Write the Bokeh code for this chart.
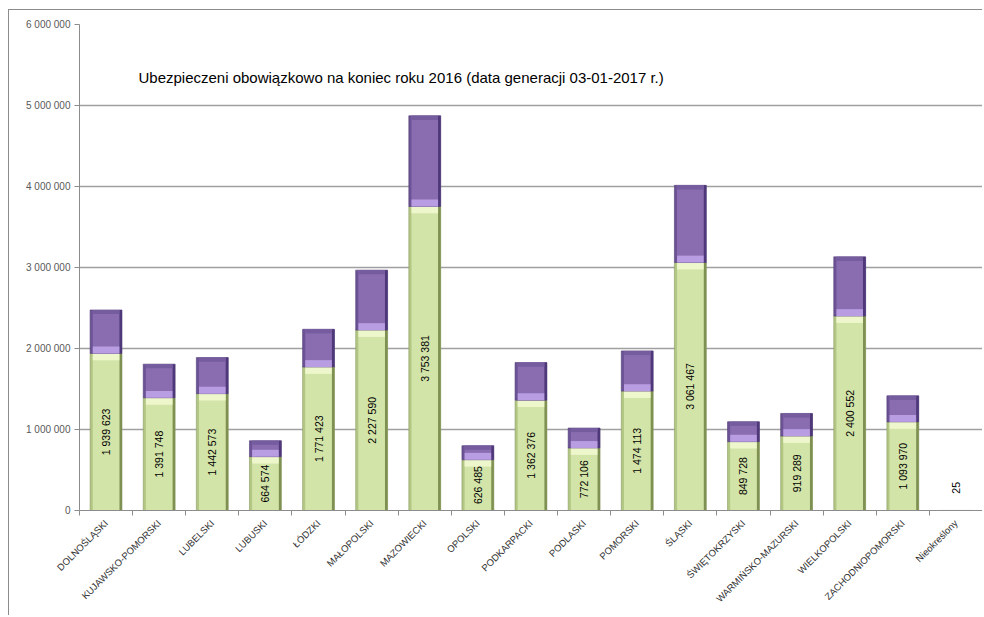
from math import pi

from bokeh.plotting import figure
from bokeh.models import (Range1d, LinearAxis, FixedTicker, Label, ColumnDataSource)
from bokeh.core.properties import value
from bokeh.embed import file_html
from bokeh.resources import INLINE

# ---------------- data ----------------
regions = ["DOLNOŚLĄSKI", "KUJAWSKO-POMORSKI", "LUBELSKI", "LUBUSKI", "ŁÓDZKI",
           "MAŁOPOLSKI", "MAZOWIECKI", "OPOLSKI", "PODKARPACKI", "PODLASKI",
           "POMORSKI", "ŚLĄSKI", "ŚWIĘTOKRZYSKI", "WARMIŃSKO-MAZURSKI",
           "WIELKOPOLSKI", "ZACHODNIOPOMORSKI", "Nieokreślony"]
green = [1939623, 1391748, 1442573, 664574, 1771423, 2227590, 3753381, 626485,
         1362376, 772106, 1474113, 3061467, 849728, 919289, 2400552, 1093970, 25]
purple = [536000, 415000, 445000, 197000, 466000, 740000, 1120000, 174000,
          464000, 246000, 496000, 953000, 246000, 279000, 731000, 322000, 0]
y_ticks = [0, 1000000, 2000000, 3000000, 4000000, 5000000, 6000000]
y_tick_labels = ["0", "1 000 000", "2 000 000", "3 000 000", "4 000 000",
                 "5 000 000", "6 000 000"]
title_text = "Ubezpieczeni obowiązkowo na koniec  roku 2016 (data generacji  03-01-2017 r.)"

# ---------------- styles ----------------
FONT = "Liberation Sans"
BEVEL = 85000          # bevel height in data units (~7 px)
MIN_LABEL_Y = 280000   # keep tiny-bar labels readable
W = 0.6                # bar width
WI = 0.5               # inner face width
EDGE = (W - WI) / 2
EDGE_X = (W + WI) / 4  # offset of right-edge strip centre

n = len(regions)
centers = [i + 0.5 for i in range(n)]
totals = [g + v for g, v in zip(green, purple)]
src = ColumnDataSource(dict(
    x=centers,
    x_edge=[c + EDGE_X for c in centers],
    region=regions,
    g_bot=[0] * n,
    g_top=green,
    g_hl_bot=[max(g - BEVEL, 0) for g in green],
    p_bot=green,
    p_top=totals,
    p_hl_top=[g + min(BEVEL, v) for g, v in zip(green, purple)],
    p_dk_bot=[t - min(BEVEL * 0.6, v) for t, v in zip(totals, purple)],
    label=[f"{g:,}".replace(",", " ") for g in green],
    label_y=[max(g / 2, MIN_LABEL_Y) for g in green],
))

p = figure(x_range=Range1d(0, n),
           y_range=Range1d(0, 6000000),
           width=974, height=606,
           output_backend="svg", toolbar_location=None,
           x_axis_location=None,
           min_border_left=70, min_border_right=1,
           min_border_top=14, min_border_bottom=106)
p.styles = {"margin-left": "8px", "margin-top": "9px",
            "border-left": "1px solid #8c8c8c", "border-top": "1px solid #8c8c8c"}
p.outline_line_color = None
p.background_fill_color = "white"
p.border_fill_color = "white"

# y axis
p.yaxis.ticker = FixedTicker(ticks=y_ticks)
p.yaxis.major_label_overrides = {t: l for t, l in zip(y_ticks, y_tick_labels)}
p.yaxis.axis_line_color = "#8c8c8c"
p.yaxis.major_tick_line_color = "#8c8c8c"
p.yaxis.major_tick_in = 0
p.yaxis.major_tick_out = 5
p.yaxis.minor_tick_line_color = None
p.yaxis.major_label_text_font = FONT
p.yaxis.major_label_text_font_size = "10px"
p.yaxis.major_label_text_color = "#595959"
p.yaxis.major_label_standoff = 4

p.ygrid.ticker = FixedTicker(ticks=y_ticks)
p.ygrid.grid_line_color = "#a0a0a0"
p.ygrid.grid_line_width = 1.3
p.xgrid.visible = False

# x axis: separator ticks + category labels
sep_ticks = list(range(n + 1))
tick_axis = LinearAxis(ticker=FixedTicker(ticks=sep_ticks),
                       major_label_overrides={t: "" for t in sep_ticks},
                       major_label_text_font_size="1px",
                       major_label_standoff=0,
                       major_tick_in=0, major_tick_out=5,
                       major_tick_line_color="#8c8c8c",
                       minor_tick_line_color=None,
                       axis_line_color="#8c8c8c")
p.add_layout(tick_axis, "below")
cat_axis = LinearAxis(ticker=FixedTicker(ticks=centers),
                      major_label_overrides={c: r for c, r in zip(centers, regions)},
                      axis_line_color=None, major_tick_line_color=None,
                      minor_tick_line_color=None,
                      major_label_orientation=pi / 4,
                      major_label_standoff=0,
                      major_label_text_font=FONT,
                      major_label_text_font_size="9.5px",
                      major_label_text_color="#303030")
p.add_layout(cat_axis, "below")

# green segment
p.vbar(x="x", bottom="g_bot", top="g_top", width=W, source=src,
       fill_color="#b3c784", line_color="#8a9a62", line_width=0.6)
p.vbar(x="x_edge", bottom="g_bot", top="g_top", width=EDGE, source=src,
       fill_color="#7f9152", line_color=None)
p.vbar(x="x", bottom="g_bot", top="g_top", width=WI, source=src,
       fill_color="#d3e4a8", line_color=None)
p.vbar(x="x", bottom="g_hl_bot", top="g_top", width=WI, source=src,
       fill_color="#eef6cc", line_color=None)
# purple segment
p.vbar(x="x", bottom="p_bot", top="p_top", width=W, source=src,
       fill_color="#6c5396", line_color="#4f3a74", line_width=0.6)
p.vbar(x="x_edge", bottom="p_bot", top="p_top", width=EDGE, source=src,
       fill_color="#4e387a", line_color=None)
p.vbar(x="x", bottom="p_bot", top="p_top", width=WI, source=src,
       fill_color="#8a6db1", line_color=None)
p.vbar(x="x", bottom="p_bot", top="p_hl_top", width=WI, source=src,
       fill_color="#b89de2", line_color=None)
p.vbar(x="x", bottom="p_dk_bot", top="p_top", width=WI, source=src,
       fill_color="#755c9f", line_color=None)

# value labels
p.text(x="x", y="label_y", text="label", source=src, angle=pi / 2,
       text_align="center", text_baseline="middle",
       text_font=value(FONT), text_font_size="10.5px", text_color="black")

# title inside plot
p.add_layout(Label(x=1.11, y=5350000, text=title_text, text_font=FONT,
                   text_font_size="15px", text_baseline="middle",
                   text_color="black"))

open("out.html", "w").write(file_html(p, INLINE))
